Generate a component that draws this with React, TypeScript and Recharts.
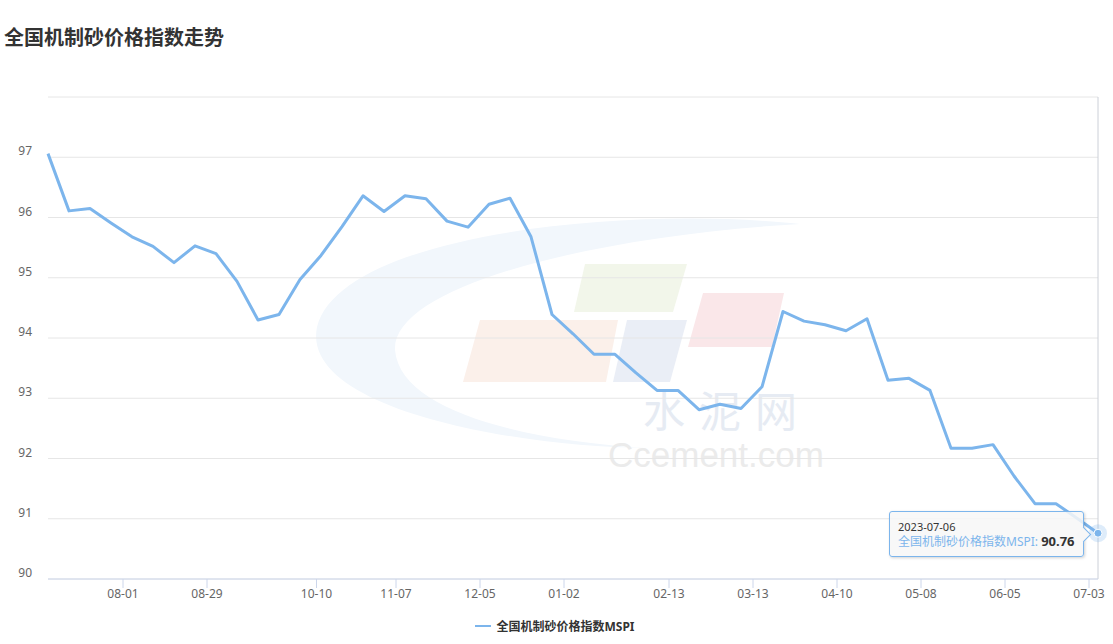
import React from "react";
import { CartesianGrid, Legend, Line, LineChart, ReferenceLine, Tooltip, XAxis, YAxis } from "recharts";

// weekly release dates (the two holiday weeks have no release)
const dates = [
  "2022-07-07", "2022-07-14", "2022-07-21", "2022-07-28", "2022-08-04", "2022-08-11", "2022-08-18",
  "2022-08-25", "2022-09-01", "2022-09-08", "2022-09-15", "2022-09-22", "2022-09-29", "2022-10-13",
  "2022-10-20", "2022-10-27", "2022-11-03", "2022-11-10", "2022-11-17", "2022-11-24", "2022-12-01",
  "2022-12-08", "2022-12-15", "2022-12-22", "2022-12-29", "2023-01-05", "2023-01-12", "2023-01-19",
  "2023-02-02", "2023-02-09", "2023-02-16", "2023-02-23", "2023-03-02", "2023-03-09", "2023-03-16",
  "2023-03-23", "2023-03-30", "2023-04-06", "2023-04-13", "2023-04-20", "2023-04-27", "2023-05-04",
  "2023-05-11", "2023-05-18", "2023-05-25", "2023-06-01", "2023-06-08", "2023-06-15", "2023-06-22",
  "2023-06-29", "2023-07-06",
];

const mspi = [
  97.06, 96.11, 96.15, 95.91, 95.68, 95.52, 95.25, 95.53, 95.4, 94.94, 94.3, 94.39, 94.97, 95.37,
  95.85, 96.36, 96.1, 96.36, 96.31, 95.94, 95.84, 96.22, 96.32, 95.68, 94.39, 94.07, 93.73, 93.73,
  93.42, 93.13, 93.13, 92.81, 92.9, 92.83, 93.19, 94.44, 94.28, 94.22, 94.12, 94.32, 93.3, 93.33,
  93.13, 92.17, 92.17, 92.23, 91.71, 91.25, 91.25, 91.01, 90.76,
];

const tickDates = [
  "2022-08-01", "2022-08-29", "2022-10-10", "2022-11-07", "2022-12-05", "2023-01-02",
  "2023-02-13", "2023-03-13", "2023-04-10", "2023-05-08", "2023-06-05", "2023-07-03",
];

const yTicks = [90, 91, 92, 93, 94, 95, 96, 97, 98];

const SERIES_NAME = "全国机制砂价格指数MSPI";
const BLUE = "#7cb5ec";
const FONT = '"Noto Sans", "Noto Sans CJK SC", sans-serif';

const dayOf = (s: string) => Date.parse(s + "T00:00:00Z") / 86400000;

// ordinal axis: one slot per release, a tick date sits between its neighbouring releases
function ordinalPos(date: string) {
  const t = dayOf(date);
  for (let i = 0; i < dates.length - 1; i++) {
    const a = dayOf(dates[i]);
    const b = dayOf(dates[i + 1]);
    if (t >= a && t <= b) return i + (t - a) / (b - a);
  }
  return dates.length - 1;
}

const xTicks = tickDates.map(ordinalPos);
const data = dates.map((date, i) => ({ idx: i, date, mspi: mspi[i] }));

function YTick({ x, y, payload }: any) {
  if (payload.value === 98) return <g />;
  return (
    <text x={x} y={y} dy={-2} textAnchor="end" fontSize={12} fill="#666" fontFamily={FONT}>
      {payload.value}
    </text>
  );
}

function XTick({ x, y, payload }: any) {
  const i = xTicks.findIndex((v) => Math.abs(v - payload.value) < 1e-6);
  return (
    <text x={x} y={y} dy={10} textAnchor="middle" fontSize={12} fill="#666" fontFamily={FONT}>
      {i >= 0 ? tickDates[i].slice(5) : ""}
    </text>
  );
}

function TipBox({ payload }: any) {
  if (!payload || !payload.length) return null;
  const p = payload[0].payload;
  return (
    <div
      style={{
        position: "relative",
        width: 195,
        boxSizing: "border-box",
        background: "rgba(247,247,247,0.85)",
        border: `1px solid ${BLUE}`,
        borderRadius: 3,
        padding: "7px 8px",
        boxShadow: "1px 1px 3px rgba(0,0,0,0.18)",
        fontFamily: FONT,
        whiteSpace: "nowrap",
      }}
    >
      <div style={{ fontSize: 11, lineHeight: "15px", color: "#333" }}>{p.date}</div>
      <div style={{ fontSize: 12, lineHeight: "15px", color: BLUE }}>
        {SERIES_NAME}: <b style={{ color: "#333", fontSize: 13 }}>{p.mspi.toFixed(2)}</b>
      </div>
      <div
        style={{
          position: "absolute",
          right: -6,
          top: "50%",
          marginTop: -5,
          width: 10,
          height: 10,
          background: "rgb(247,247,247)",
          borderTop: `1px solid ${BLUE}`,
          borderRight: `1px solid ${BLUE}`,
          transform: "rotate(45deg)",
        }}
      />
    </div>
  );
}

function LegendBox() {
  return (
    <div style={{ display: "flex", justifyContent: "center", alignItems: "center", height: 20, paddingLeft: 4 }}>
      <svg width={16} height={10}>
        <line x1={0} y1={5} x2={16} y2={5} stroke={BLUE} strokeWidth={2} />
      </svg>
      <span style={{ marginLeft: 5, fontSize: 12, fontWeight: "bold", color: "#333", fontFamily: FONT }}>
        {SERIES_NAME}
      </span>
    </div>
  );
}

function Watermark() {
  return (
    <svg width={1113} height={644} style={{ position: "absolute", left: 0, top: 0, pointerEvents: "none" }}>
      <path
        d="M 800 224 C 620 205, 340 235, 317 327 C 300 410, 520 447, 645 448 C 520 440, 400 410, 395 350 C 392 285, 600 235, 800 224 Z"
        fill="#f2f7fc"
      />
      <polygon points="585,264 687,264 673,312 574,312" fill="#f2f6ea" />
      <polygon points="480,320 618,320 606,382 463,382" fill="#fbf0ea" />
      <polygon points="627,320 687,320 670,382 613,382" fill="#eaeef6" />
      <polygon points="703,293 784,293 772,347 688,347" fill="#fae7e9" />
      <text x={643} y={427} fontSize={42} fill="#e6ebf3" fontFamily='"Noto Sans CJK SC"' letterSpacing={14}>
        水泥网
      </text>
      <text x={608} y={467} fontSize={35} fill="#ebebeb" fontFamily='"Liberation Sans", Arial'>
        Ccement.com
      </text>
    </svg>
  );
}

export default function App() {
  return (
    <div style={{ position: "absolute", left: 0, top: 0, width: 1113, height: 644, background: "#fff", overflow: "hidden" }}>
      <Watermark />
      <div style={{ position: "absolute", left: 0, top: 0 }}>
        <LineChart width={1113} height={644} data={data} margin={{ top: 97, right: 15, left: 8, bottom: 8 }}>
          <CartesianGrid vertical={false} stroke="#e6e6e6" />
          <XAxis
            type="number"
            dataKey="idx"
            domain={[0, dates.length - 1]}
            ticks={xTicks}
            interval={0}
            height={37}
            tickSize={9}
            tickMargin={0}
            axisLine={{ stroke: "#ccd6eb" }}
            tickLine={{ stroke: "#ccd6eb" }}
            tick={XTick}
          />
          <YAxis
            domain={[90, 98]}
            ticks={yTicks}
            interval={0}
            width={40}
            axisLine={false}
            tickLine={false}
            tickSize={6}
            tickMargin={10}
            tick={YTick}
          />
          <ReferenceLine x={dates.length - 1} stroke="#ccd0d8" />
          <Legend verticalAlign="bottom" align="center" height={20} content={LegendBox} />
          <Tooltip
            active
            defaultIndex={dates.length - 1}
            position={{ x: 889, y: 511 }}
            cursor={false}
            isAnimationActive={false}
            content={TipBox}
            wrapperStyle={{ outline: "none", zIndex: 5 }}
          />
          <Line
            type="linear"
            dataKey="mspi"
            name={SERIES_NAME}
            stroke={BLUE}
            strokeWidth={3}
            strokeLinejoin="round"
            dot={false}
            activeDot={(props: any) => (
              <g key="active-dot">
                <circle cx={props.cx} cy={props.cy} r={9} fill={BLUE} fillOpacity={0.25} />
                <circle cx={props.cx} cy={props.cy} r={4} fill={BLUE} stroke="#fff" strokeWidth={1} />
              </g>
            )}
            isAnimationActive={false}
          />
        </LineChart>
      </div>
      <div
        style={{
          position: "absolute",
          left: 4,
          top: 27,
          fontSize: 20,
          lineHeight: "20px",
          fontWeight: "bold",
          color: "#333",
          fontFamily: '"Noto Sans CJK SC", sans-serif',
        }}
      >
        全国机制砂价格指数走势
      </div>
    </div>
  );
}
